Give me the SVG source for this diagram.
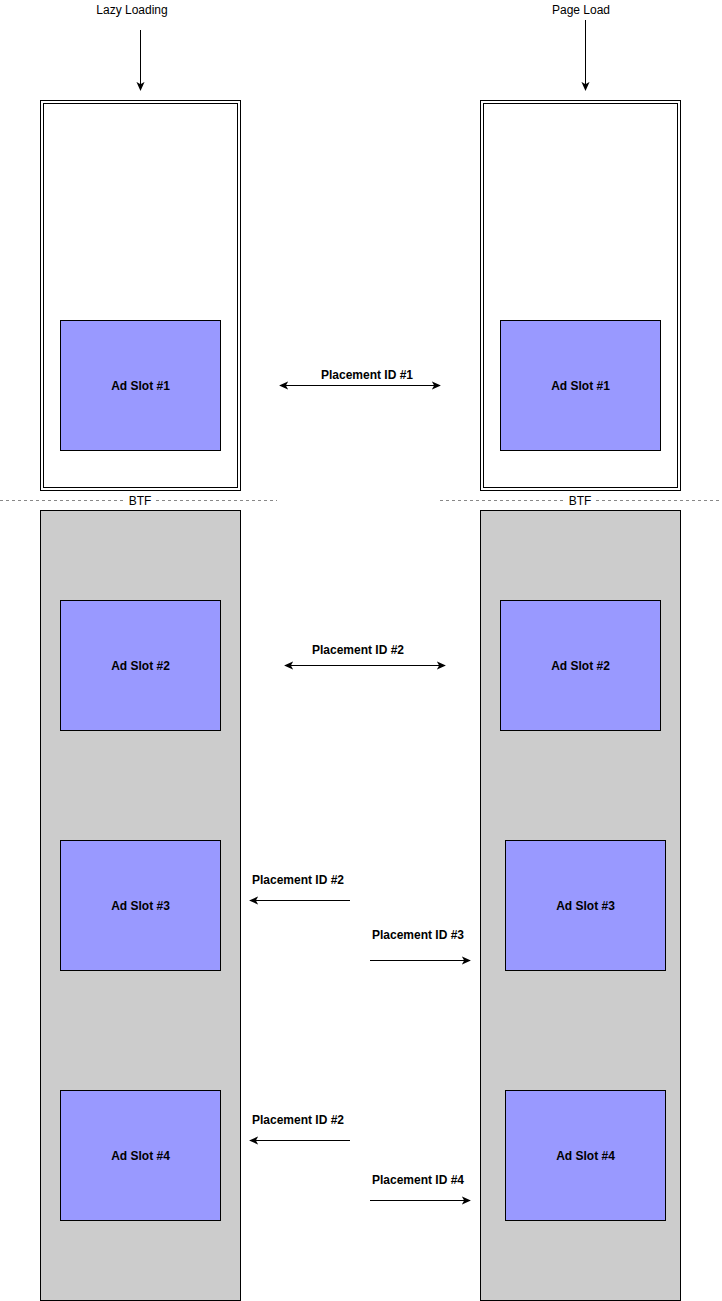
<svg xmlns="http://www.w3.org/2000/svg" width="722" height="1301" viewBox="0 0 722 1301">
<defs>
<marker id="ah" viewBox="0 0 10 10" refX="9" refY="5" markerWidth="9" markerHeight="9" markerUnits="userSpaceOnUse" orient="auto-start-reverse">
<path d="M0,0.5 L10,5 L0,9.5 L2.5,5 Z" fill="#000"/>
</marker>
<style>
text{font-family:"Liberation Sans",Arial,sans-serif;font-size:12px;fill:#000;text-anchor:middle}
.b{font-weight:bold}
.frame{fill:#fff;stroke:#000;stroke-width:1}
.grey{fill:#ccc;stroke:#000;stroke-width:1}
.slot{fill:#9999ff;stroke:#000;stroke-width:1}
.con{stroke:#000;stroke-width:1;fill:none}
.dot{stroke:#888;stroke-width:1;stroke-dasharray:3 3;fill:none}
</style>
</defs>
<rect width="722" height="1301" fill="#fff"/>
<g id="screen-left">
<rect class="frame" x="40.5" y="100.5" width="200" height="390"/>
<rect class="frame" x="43.5" y="103.5" width="194" height="384"/>
</g>
<g id="screen-right">
<rect class="frame" x="480.5" y="100.5" width="200" height="390"/>
<rect class="frame" x="483.5" y="103.5" width="194" height="384"/>
</g>
<g id="btf-line-left"><line class="dot" x1="0" y1="500.5" x2="277" y2="500.5"/></g>
<g id="btf-line-right"><line class="dot" x1="440" y1="500.5" x2="720" y2="500.5"/></g>
<g id="btf-left"><rect x="126" y="494" width="28" height="13" fill="#fff"/><text x="140" y="505">BTF</text></g>
<g id="btf-right"><rect x="566" y="494" width="28" height="13" fill="#fff"/><text x="580" y="505">BTF</text></g>
<g id="below-left"><rect class="grey" x="40.5" y="510.5" width="200" height="790"/></g>
<g id="below-right"><rect class="grey" x="480.5" y="510.5" width="200" height="790"/></g>
<g id="label-lazy"><text x="132" y="14">Lazy Loading</text></g>
<g id="label-page"><text x="581" y="14">Page Load</text></g>
<g id="slot-l1"><rect class="slot" x="60.5" y="320.5" width="160" height="130"/><text class="b" x="140.5" y="390">Ad Slot #1</text></g>
<g id="slot-r1"><rect class="slot" x="500.5" y="320.5" width="160" height="130"/><text class="b" x="580.5" y="390">Ad Slot #1</text></g>
<g id="slot-l2"><rect class="slot" x="60.5" y="600.5" width="160" height="130"/><text class="b" x="140.5" y="670">Ad Slot #2</text></g>
<g id="slot-r2"><rect class="slot" x="500.5" y="600.5" width="160" height="130"/><text class="b" x="580.5" y="670">Ad Slot #2</text></g>
<g id="slot-l3"><rect class="slot" x="60.5" y="840.5" width="160" height="130"/><text class="b" x="140.5" y="910">Ad Slot #3</text></g>
<g id="slot-r3"><rect class="slot" x="505.5" y="840.5" width="160" height="130"/><text class="b" x="585.5" y="910">Ad Slot #3</text></g>
<g id="slot-l4"><rect class="slot" x="60.5" y="1090.5" width="160" height="130"/><text class="b" x="140.5" y="1160">Ad Slot #4</text></g>
<g id="slot-r4"><rect class="slot" x="505.5" y="1090.5" width="160" height="130"/><text class="b" x="585.5" y="1160">Ad Slot #4</text></g>
<g id="connectors">
<line class="con" x1="140.5" y1="30" x2="140.5" y2="90" marker-end="url(#ah)"/>
<line class="con" x1="585.5" y1="20" x2="585.5" y2="90" marker-end="url(#ah)"/>
<line class="con" x1="280" y1="385.5" x2="440" y2="385.5" marker-start="url(#ah)" marker-end="url(#ah)"/>
<line class="con" x1="285" y1="665.5" x2="445" y2="665.5" marker-start="url(#ah)" marker-end="url(#ah)"/>
<line class="con" x1="350" y1="900.5" x2="250" y2="900.5" marker-end="url(#ah)"/>
<line class="con" x1="370" y1="960.5" x2="470" y2="960.5" marker-end="url(#ah)"/>
<line class="con" x1="350" y1="1140.5" x2="250" y2="1140.5" marker-end="url(#ah)"/>
<line class="con" x1="370" y1="1200.5" x2="470" y2="1200.5" marker-end="url(#ah)"/>
</g>
<g id="conn-labels">
<text class="b" x="367" y="379">Placement ID #1</text>
<text class="b" x="358" y="654">Placement ID #2</text>
<text class="b" x="298" y="884">Placement ID #2</text>
<text class="b" x="418" y="939">Placement ID #3</text>
<text class="b" x="298" y="1124">Placement ID #2</text>
<text class="b" x="418" y="1184">Placement ID #4</text>
</g>
</svg>
